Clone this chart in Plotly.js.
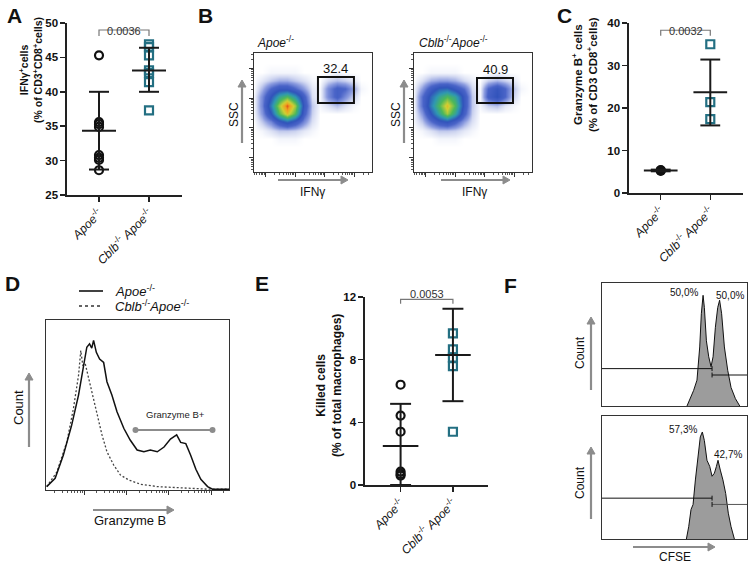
<!DOCTYPE html>
<html>
<head>
<meta charset="utf-8">
<script src="https://cdn.plot.ly/plotly-3.0.1.min.js"></script>
<style>
    html, body { margin: 0; padding: 0; background: #fff; }
    #chart { width: 750px; height: 565px; }
</style>
</head>
<body>
<div id="chart"></div>
<script>
// ---------- data ----------
const groupLabels = ['<i>Apoe</i><sup>-/-</sup>', '<i>Cblb</i><sup>-/-</sup> <i>Apoe</i><sup>-/-</sup>'];

// A: IFNy+ cells (% of CD3+CD8+)
const aApoe = [45.3, 35.6, 35.3, 34.9, 30.8, 30.4, 30.1, 28.6];
const aCblb = [46.9, 46.5, 45.3, 43.1, 42.7, 41.4, 37.3];
const aMean = [34.35, 43.1];
const aLow = [28.7, 40.0];
const aHigh = [40.0, 46.4];
const aP = '0.0036';

// C: Granzyme B+ cells
const cApoe = [5.4, 5.3, 5.2];
const cCblb = [35.0, 21.4, 17.4];
const cMean = [5.3, 23.7];
const cLow = [5.1, 15.9];
const cHigh = [5.5, 31.4];
const cP = '0.0032';

// E: killed cells (% of total macrophages)
const eApoe = [6.4, 4.43, 3.4, 0.86, 0.71, 0.6];
const eCblb = [9.68, 8.66, 8.13, 7.59, 3.4];
const eMean = [2.49, 8.3];
const eLow = [0, 5.35];
const eHigh = [5.18, 11.25];
const eP = '0.0053';

// B: flow density (coarse grid, 0..10), axes in % of plot box
const flowX = [0, 7, 14, 21, 28, 35, 42, 49, 56, 63, 70, 77, 84, 91, 98];
const flowY = [21, 28, 35, 42, 49, 56, 63, 70, 77, 84, 91];
const densApoe = [
    [0, 0, 0, 0, 0, 0, 0, 0, 0, 0, 0, 0, 0, 0, 0],
    [0, 0, 0, 0.1, 0.1, 0.1, 0, 0, 0, 0, 0, 0, 0, 0, 0],
    [0, 0.1, 0.4, 0.7, 0.7, 0.6, 0.3, 0.1, 0, 0, 0, 0, 0, 0, 0],
    [0, 0.7, 1.6, 3, 4, 3, 1.5, 0.4, 0, 0, 0, 0, 0, 0, 0],
    [0.1, 1.3, 3.5, 6.5, 8.5, 6.5, 2.5, 0.6, 0, 0, 0, 0, 0, 0, 0],
    [0.1, 1.6, 4.5, 7.5, 10, 7.5, 3, 0.7, 0.1, 0.4, 0.8, 0.4, 0.1, 0, 0],
    [0.1, 1.5, 3.5, 5.5, 6.5, 5, 2.5, 0.4, 0.1, 1.5, 2.5, 1.5, 0.6, 0, 0],
    [0, 0.9, 2.2, 3, 3, 2.2, 1.2, 0.3, 0.1, 1.5, 2.5, 2.2, 1.2, 0.1, 0],
    [0, 0.3, 0.7, 1, 1, 0.7, 0.4, 0.1, 0, 0.5, 0.8, 0.6, 0.3, 0, 0],
    [0, 0, 0.1, 0.1, 0.1, 0.1, 0, 0, 0, 0, 0.1, 0, 0, 0, 0],
    [0, 0, 0, 0, 0, 0, 0, 0, 0, 0, 0, 0, 0, 0, 0]
];
const densCblb = [
    [0, 0, 0, 0, 0, 0, 0, 0, 0, 0, 0, 0, 0, 0, 0],
    [0, 0, 0, 0.1, 0.1, 0.1, 0, 0, 0, 0, 0, 0, 0, 0, 0],
    [0, 0.1, 0.4, 0.7, 0.7, 0.6, 0.3, 0.1, 0, 0, 0, 0, 0, 0, 0],
    [0.1, 0.7, 2, 3, 3.5, 2.5, 1.2, 0.4, 0, 0, 0, 0, 0, 0, 0],
    [0.1, 1.3, 3.5, 5.5, 7.5, 5.5, 2.5, 0.6, 0, 0, 0, 0, 0, 0, 0],
    [0.1, 2, 4.5, 6.5, 8.5, 6.5, 3, 0.7, 0.1, 0.6, 0.8, 0.3, 0.1, 0, 0],
    [0.1, 2, 4, 5.5, 6.5, 5.5, 3, 0.7, 0.1, 2.5, 3.5, 2.2, 0.6, 0, 0],
    [0.1, 1.2, 2.8, 3.8, 4, 3, 2, 0.5, 0.1, 2.2, 3.2, 2.2, 0.8, 0.1, 0],
    [0, 0.4, 1, 1.2, 1.2, 1, 0.5, 0.2, 0, 0.6, 0.9, 0.6, 0.3, 0, 0],
    [0, 0, 0.1, 0.1, 0.1, 0.1, 0, 0, 0, 0, 0.1, 0, 0, 0, 0],
    [0, 0, 0, 0, 0, 0, 0, 0, 0, 0, 0, 0, 0, 0, 0]
];
const gateApoe = { x: [54.2, 84.7], y: [58, 79.8], pct: '32.4' };
const gateCblb = { x: [53.4, 83.9], y: [58, 79], pct: '40.9' };

// D: Granzyme B histograms
const dApoeX = [0.4, 5, 9.5, 14, 17.8, 20.5, 22.3, 23.8, 25, 26, 27.5, 29.3, 31.5, 33.3, 36, 38.8, 42.5, 46, 49.8, 53.5, 57, 60.8, 64.5, 68, 71.4, 73.6, 76.4, 79, 81.9, 84.6, 88.3, 91, 100];
const dApoeY = [2, 6.9, 20.6, 38, 56, 73.5, 84, 86, 83.5, 88, 81, 77, 75, 63.7, 55.9, 46, 36.3, 29.4, 23.5, 22.5, 23.5, 22.5, 25.3, 30, 32.4, 28, 27.3, 20.6, 12.2, 6.3, 2, 0.5, 0.5];
const dCblbX = [0.4, 5.9, 11.4, 15, 17.8, 19, 20.1, 21.4, 22.9, 25, 27.8, 30.6, 33.3, 37, 40.7, 45.2, 51.6, 60.8, 73.6, 88.3, 100];
const dCblbY = [2, 10.5, 28.3, 48, 67.6, 82, 73.5, 74.5, 67.6, 57.8, 44, 32.4, 22.5, 14.7, 8.8, 5.9, 3.4, 2, 1.3, 0.5, 0.5];
const dGateX = [48.9, 91];
const dGateY = 35.3;

// F: CFSE histograms
const fTopX = [58.6, 60.9, 63.2, 65.5, 67.4, 68.5, 69.7, 70.6, 72, 73.6, 75.2, 76.6, 78.2, 79.8, 81.1, 82.5, 84.4, 86.7, 89, 92, 95];
const fTopY = [0, 6, 12.7, 21, 48, 75, 90, 80, 53, 40, 32, 40, 64, 80, 86, 75, 48, 29, 15, 6, 0];
const fBotX = [58.2, 59.8, 61.4, 62.8, 64.4, 66.2, 67.8, 69.2, 70.6, 72.4, 74.3, 75.9, 77.5, 78.9, 80, 81.6, 83.4, 85.3, 87.1, 89, 91.3];
const fBotY = [0, 10, 24, 28, 48, 67, 83, 87, 80, 64, 59, 51, 53.5, 59, 64, 56, 48, 37, 21, 10, 0];
const fTopPct = ['50,0%', '50,0%'];
const fBotPct = ['57,3%', '42,7%'];
const fSplit = 75.9;
const fTopGate = [30.4, 25.2];
const fBotGate = [33.2, 28.1];

// ---------- helpers ----------
const W = 750, H = 565;
const px = x => x / W;
const py = y => 1 - y / H;
const FONT = 'Liberation Sans, Arial, sans-serif';
const TEAL = '#236f82';
const ARROW = '#8c8c8c';

function dotTraces(xa, ya, g1, g2, mean, low, high, filledFirst) {
    const lx = [], ly = [];
    for (let i = 0; i < 2; i++) {
        lx.push(i - 0.34, i + 0.34, null, i, i, null, i - 0.2, i + 0.2, null, i - 0.2, i + 0.2, null);
        ly.push(mean[i], mean[i], null, low[i], high[i], null, low[i], low[i], null, high[i], high[i], null);
    }
    return [
        {
            x: g1.map(() => 0), y: g1, xaxis: xa, yaxis: ya, type: 'scatter', mode: 'markers', cliponaxis: false,
            marker: filledFirst
                ? { symbol: 'circle', size: 10, color: '#111' }
                : { symbol: 'circle-open', size: 8, color: '#111', line: { width: 2.2, color: '#111' } }
        },
        {
            x: g2.map(() => 1), y: g2, xaxis: xa, yaxis: ya, type: 'scatter', mode: 'markers', cliponaxis: false,
            marker: { symbol: 'square-open', size: 8, color: TEAL, line: { width: 2.2, color: TEAL } }
        },
        {
            x: lx, y: ly, xaxis: xa, yaxis: ya, type: 'scatter', mode: 'lines', cliponaxis: false,
            line: { color: '#1a1a1a', width: 2 }
        }
    ];
}

function dotAxes(xd, yd, yrange, ytick, anchorX, anchorY) {
    const common = {
        showline: true, linecolor: '#222', linewidth: 1.6, showgrid: false, zeroline: false,
        ticks: 'outside', ticklen: 5, tickwidth: 1.5, tickcolor: '#222'
    };
    return [
        Object.assign({}, common, {
            domain: xd, anchor: anchorY, range: [-0.64, 1.66],
            tickvals: [0, 1], ticktext: groupLabels, tickangle: -45,
            tickfont: { family: FONT, size: 12, color: '#111' }
        }),
        Object.assign({}, common, {
            domain: yd, anchor: anchorX, range: yrange, tickvals: ytick,
            tickfont: { family: FONT, size: 11.5, color: '#111', weight: 'bold' }
        })
    ];
}

function logTicks(first, width, count, lo, hi) {
    const major = [], minor = [];
    for (let d = -1; d < count; d++) {
        const base = first + d * width;
        if (d >= 0) major.push(base);
        for (let k = 2; k <= 9; k++) {
            const v = base + width * Math.log10(k);
            if (v > lo && v < hi) minor.push(v);
        }
    }
    return { major, minor };
}

function boxAxes(xd, yd, anchorX, anchorY, xt, yt) {
    const base = {
        showline: true, mirror: true, linecolor: '#333', linewidth: 1, showgrid: false, zeroline: false,
        range: [0, 100], showticklabels: false
    };
    const xa = Object.assign({}, base, { domain: xd, anchor: anchorY });
    const ya = Object.assign({}, base, { domain: yd, anchor: anchorX });
    if (xt) Object.assign(xa, { ticks: 'outside', ticklen: 4, tickcolor: '#333', tickvals: xt.major, minor: { ticks: 'outside', ticklen: 2, tickcolor: '#555', tickvals: xt.minor } });
    if (yt) Object.assign(ya, { ticks: 'outside', ticklen: 4, tickcolor: '#333', tickvals: yt.major, minor: { ticks: 'outside', ticklen: 2, tickcolor: '#555', tickvals: yt.minor } });
    return [xa, ya];
}

function txt(x, y, text, size, extra) {
    return Object.assign({
        x: px(x), y: py(y), xref: 'paper', yref: 'paper', xanchor: 'center', yanchor: 'middle',
        text: text, showarrow: false,
        font: { family: FONT, size: size, color: '#111' }
    }, extra || {});
}

// gray axis-direction arrows drawn as shapes (tail -> head, pixel coords)
function arrowShapes(x0, y0, x1, y1) {
    const dx = Math.sign(x1 - x0), dy = Math.sign(y1 - y0);
    const back = 7, half = 4;
    const bx = x1 - dx * back, by = y1 - dy * back;
    let tri;
    if (dx !== 0) {
        tri = `M ${px(bx)},${py(y1 - half)} L ${px(x1)},${py(y1)} L ${px(bx)},${py(y1 + half)} Z`;
    } else {
        tri = `M ${px(x1 - half)},${py(by)} L ${px(x1)},${py(y1)} L ${px(x1 + half)},${py(by)} Z`;
    }
    return [
        { type: 'line', xref: 'paper', yref: 'paper', x0: px(x0), y0: py(y0), x1: px(bx + dx), y1: py(by + dy), line: { color: ARROW, width: 2.2 } },
        { type: 'path', xref: 'paper', yref: 'paper', path: tri, fillcolor: ARROW, line: { color: ARROW, width: 1 } }
    ];
}

function bracket(xa, ya, lo, hi) {
    return {
        type: 'path', xref: xa, yref: ya,
        path: `M 0,${lo} L 0,${hi} L 1,${hi} L 1,${lo}`,
        line: { color: '#777', width: 1.2 }
    };
}

// ---------- traces ----------
const heatScale = [
    [0, '#ffffff'], [0.01, '#f4f6fc'], [0.05, '#d4daf2'], [0.12, '#8d9de0'], [0.22, '#4a64c8'], [0.35, '#3153bb'],
    [0.5, '#2f98b2'], [0.65, '#4cb85a'], [0.8, '#cfd034'], [0.92, '#f0a020'], [1, '#e4561a']
];

const traces = [
    ...dotTraces('x', 'y', aApoe, aCblb, aMean, aLow, aHigh, false),
    { type: 'heatmap', x: flowX, y: flowY, z: densApoe, xaxis: 'x2', yaxis: 'y2', zsmooth: 'best', zmin: 0, zmax: 10, colorscale: heatScale, showscale: false, hoverinfo: 'skip' },
    { type: 'heatmap', x: flowX, y: flowY, z: densCblb, xaxis: 'x3', yaxis: 'y3', zsmooth: 'best', zmin: 0, zmax: 10, colorscale: heatScale, showscale: false, hoverinfo: 'skip' },
    ...dotTraces('x4', 'y4', cApoe, cCblb, cMean, cLow, cHigh, true),
    { x: dCblbX, y: dCblbY, xaxis: 'x5', yaxis: 'y5', type: 'scatter', mode: 'lines', line: { color: '#444', width: 1.3, dash: '2px,2px' } },
    { x: dApoeX, y: dApoeY, xaxis: 'x5', yaxis: 'y5', type: 'scatter', mode: 'lines', line: { color: '#111', width: 1.5 } },
    { x: dGateX, y: [dGateY, dGateY], xaxis: 'x5', yaxis: 'y5', type: 'scatter', mode: 'lines+markers', line: { color: ARROW, width: 2 }, marker: { color: ARROW, size: 6 } },
    ...dotTraces('x6', 'y6', eApoe, eCblb, eMean, eLow, eHigh, false),
    { x: fTopX, y: fTopY, xaxis: 'x7', yaxis: 'y7', type: 'scatter', mode: 'lines', fill: 'tozeroy', fillcolor: '#9c9c9c', line: { color: '#111', width: 1 } },
    { x: fBotX, y: fBotY, xaxis: 'x8', yaxis: 'y8', type: 'scatter', mode: 'lines', fill: 'tozeroy', fillcolor: '#9c9c9c', line: { color: '#111', width: 1 } }
];

// ---------- layout ----------
const [xA, yA] = dotAxes([px(67), px(182)], [py(195), py(23)], [25, 50], [25, 30, 35, 40, 45, 50], 'x', 'y');
const [xC, yC] = dotAxes([px(629), px(743)], [py(193), py(23)], [0, 40], [0, 10, 20, 30, 40], 'x4', 'y4');
const [xE, yE] = dotAxes([px(365), px(488)], [py(485), py(297)], [0, 12], [0, 4, 8, 12], 'x6', 'y6');
xE.range = [-0.68, 1.67];

const flowTicksX = logTicks(10, 25, 4, 0, 100);
const flowTicksY = logTicks(12, 25, 4, 0, 100);
const [xB1, yB1] = boxAxes([px(254), px(372)], [py(172), py(53)], 'x2', 'y2', flowTicksX, flowTicksY);
const [xB2, yB2] = boxAxes([px(414), px(532)], [py(172), py(53)], 'x3', 'y3', flowTicksX, flowTicksY);
const [xD, yD] = boxAxes([px(46), px(229)], [py(490), py(320)], 'x5', 'y5', logTicks(20.9, 23.1, 4, 0, 100), null);
const [xF1, yF1] = boxAxes([px(602), px(747)], [py(406), py(283)], 'x7', 'y7', null, null);
const [xF2, yF2] = boxAxes([px(602), px(747)], [py(539), py(416)], 'x8', 'y8', null, null);

const shapes = [
    bracket('x', 'y', 48.1, 48.98),
    bracket('x4', 'y4', 37.0, 38.3),
    bracket('x6', 'y6', 11.57, 11.85),
    { type: 'rect', xref: 'x2', yref: 'y2', x0: gateApoe.x[0], x1: gateApoe.x[1], y0: gateApoe.y[0], y1: gateApoe.y[1], line: { color: '#111', width: 2 } },
    { type: 'rect', xref: 'x3', yref: 'y3', x0: gateCblb.x[0], x1: gateCblb.x[1], y0: gateCblb.y[0], y1: gateCblb.y[1], line: { color: '#111', width: 2 } },
    // D legend samples
    { type: 'line', xref: 'paper', yref: 'paper', x0: px(79), x1: px(103), y0: py(291), y1: py(291), line: { color: '#111', width: 1.6 } },
    { type: 'line', xref: 'paper', yref: 'paper', x0: px(79), x1: px(103), y0: py(306), y1: py(306), line: { color: '#333', width: 1.6, dash: '3px,3px' } },
    // F gates
    { type: 'line', xref: 'x7', yref: 'y7', x0: 0, x1: fSplit, y0: fTopGate[0], y1: fTopGate[0], line: { color: '#111', width: 1 } },
    { type: 'line', xref: 'x7', yref: 'y7', x0: fSplit, x1: fSplit, y0: fTopGate[0] - 2, y1: fTopGate[0] + 2, line: { color: '#111', width: 1 } },
    { type: 'line', xref: 'x7', yref: 'y7', x0: fSplit, x1: 100, y0: fTopGate[1], y1: fTopGate[1], line: { color: '#111', width: 1 } },
    { type: 'line', xref: 'x7', yref: 'y7', x0: fSplit, x1: fSplit, y0: fTopGate[1] - 2, y1: fTopGate[1] + 2, line: { color: '#111', width: 1 } },
    { type: 'line', xref: 'x8', yref: 'y8', x0: 0, x1: fSplit, y0: fBotGate[0], y1: fBotGate[0], line: { color: '#111', width: 1 } },
    { type: 'line', xref: 'x8', yref: 'y8', x0: fSplit, x1: fSplit, y0: fBotGate[0] - 2, y1: fBotGate[0] + 2, line: { color: '#111', width: 1 } },
    { type: 'line', xref: 'x8', yref: 'y8', x0: fSplit, x1: 100, y0: fBotGate[1], y1: fBotGate[1], line: { color: '#555', width: 1 } },
    { type: 'line', xref: 'x8', yref: 'y8', x0: fSplit, x1: fSplit, y0: fBotGate[1] - 2, y1: fBotGate[1] + 2, line: { color: '#111', width: 1 } },
    // axis-direction arrows
    ...arrowShapes(242, 143, 242, 80), ...arrowShapes(404, 143, 404, 80),
    ...arrowShapes(278, 180, 348, 180), ...arrowShapes(441, 180, 510, 180),
    ...arrowShapes(29, 447, 29, 373), ...arrowShapes(93, 510, 174, 510),
    ...arrowShapes(591, 390, 591, 317), ...arrowShapes(591, 519, 591, 447),
    ...arrowShapes(633, 547, 715, 547)
];

const bold = s => `<b>${s}</b>`;
const annotations = [
    // panel letters
    txt(14, 15, bold('A'), 21), txt(205, 15, bold('B'), 21), txt(564, 15, bold('C'), 21),
    txt(12, 283, bold('D'), 21), txt(262, 283, bold('E'), 21), txt(510, 285, bold('F'), 21),
    // A
    txt(31, 70, bold('IFNγ<sup>+</sup>cells<br>(% of CD3<sup>+</sup>CD8<sup>+</sup>cells)'), 10.5, { textangle: -90 }),
    { x: 0.5, y: py(23), xref: 'x', yref: 'paper', text: aP, showarrow: false, font: { family: FONT, size: 11, color: '#333' } },
    // B
    txt(255, 42, '<i>Apoe</i><sup>-/-</sup>', 12, { xanchor: 'left' }),
    txt(417, 42, '<i>Cblb</i><sup>-/-</sup><i>Apoe</i><sup>-/-</sup>', 12, { xanchor: 'left' }),
    { x: (gateApoe.x[0] + gateApoe.x[1]) / 2, y: gateApoe.y[1], xref: 'x2', yref: 'y2', yanchor: 'bottom', yshift: -1, text: gateApoe.pct, showarrow: false, font: { family: FONT, size: 13, color: '#111' } },
    { x: (gateCblb.x[0] + gateCblb.x[1]) / 2, y: gateCblb.y[1], xref: 'x3', yref: 'y3', yanchor: 'bottom', yshift: -1, text: gateCblb.pct, showarrow: false, font: { family: FONT, size: 13, color: '#111' } },
    txt(234, 115, 'SSC', 12, { textangle: -90 }), txt(396, 115, 'SSC', 12, { textangle: -90 }),
    txt(312, 192, 'IFNγ', 12), txt(474, 192, 'IFNγ', 12),
    // C
    txt(585, 75, bold('Granzyme B<sup>+</sup> cells<br>(% of CD3 CD8<sup>+</sup>cells)'), 11.5, { textangle: -90 }),
    { x: 0.5, y: py(23), xref: 'x4', yref: 'paper', text: cP, showarrow: false, font: { family: FONT, size: 11, color: '#333' } },
    // D
    txt(113, 291, '<i>Apoe</i><sup>-/-</sup>', 13, { xanchor: 'left' }),
    txt(113, 306, '<i>Cblb</i><sup>-/-</sup><i>Apoe</i><sup>-/-</sup>', 13, { xanchor: 'left' }),
    { x: 70.9, y: 44.5, xref: 'x5', yref: 'y5', text: 'Granzyme B+', showarrow: false, font: { family: FONT, size: 9.5, color: '#222' } },
    txt(18, 408, 'Count', 13, { textangle: -90 }),
    txt(130, 520, 'Granzyme B', 13),
    // E
    txt(329, 386, bold('Killed cells<br>(% of total macrophages)'), 12, { textangle: -90 }),
    { x: 0.5, y: py(294), xref: 'x6', yref: 'paper', text: eP, showarrow: false, font: { family: FONT, size: 11, color: '#333' } },
    // F
    { x: 56.3, y: 92, xref: 'x7', yref: 'y7', text: fTopPct[0], showarrow: false, font: { family: FONT, size: 10, color: '#111' } },
    { x: 88, y: 90, xref: 'x7', yref: 'y7', text: fTopPct[1], showarrow: false, font: { family: FONT, size: 10, color: '#111' } },
    { x: 55.9, y: 89, xref: 'x8', yref: 'y8', text: fBotPct[0], showarrow: false, font: { family: FONT, size: 10, color: '#111' } },
    { x: 86.9, y: 69, xref: 'x8', yref: 'y8', text: fBotPct[1], showarrow: false, font: { family: FONT, size: 10, color: '#111' } },
    txt(580, 353, 'Count', 12, { textangle: -90 }), txt(580, 483, 'Count', 12, { textangle: -90 }),
    txt(675, 557, 'CFSE', 12)
];

const layout = {
    width: W, height: H,
    margin: { l: 0, r: 0, t: 0, b: 0 },
    paper_bgcolor: '#fff', plot_bgcolor: 'rgba(0,0,0,0)',
    showlegend: false,
    font: { family: FONT, color: '#111' },
    xaxis: xA, yaxis: yA,
    xaxis2: xB1, yaxis2: yB1,
    xaxis3: xB2, yaxis3: yB2,
    xaxis4: xC, yaxis4: yC,
    xaxis5: xD, yaxis5: yD,
    xaxis6: xE, yaxis6: yE,
    xaxis7: xF1, yaxis7: yF1,
    xaxis8: xF2, yaxis8: yF2,
    shapes: shapes,
    annotations: annotations
};

Plotly.newPlot('chart', traces, layout, { displayModeBar: false, staticPlot: true });
</script>
</body>
</html>
